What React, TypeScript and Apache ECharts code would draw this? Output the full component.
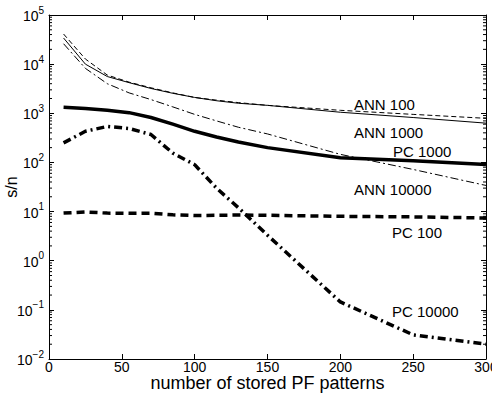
import React, { useEffect, useRef } from "react";
import * as echarts from "echarts";

const X = [10, 25, 40, 55, 70, 85, 100, 115, 130, 150, 200, 250, 300];
const ANN100 = [41000, 12700, 6000, 4300, 3300, 2600, 2100, 1850, 1650, 1450, 1150, 950, 790];
const ANN1000 = [34000, 10000, 5600, 4200, 3200, 2550, 2100, 1800, 1600, 1450, 1050, 820, 630];
const ANN10000 = [26000, 8200, 4000, 2600, 1900, 1350, 950, 700, 520, 380, 146, 72, 34];
const PC100 = [9.3, 9.8, 9.3, 9.2, 9.3, 8.6, 8.3, 8.4, 8.5, 8.4, 8.0, 7.8, 7.4];
const PC1000 = [1320, 1250, 1150, 1030, 820, 600, 430, 330, 260, 200, 125, 108, 91];
const PC10000 = [250, 430, 540, 490, 370, 155, 90, 30, 12, 3.3, 0.145, 0.031, 0.02];
const Y_MIN = 0.01;
const Y_MAX = 100000;
const LABELS = [
  { text: "ANN 100", x: 354, y: 104 },
  { text: "ANN 1000", x: 354, y: 132 },
  { text: "PC 1000", x: 393, y: 151 },
  { text: "ANN 10000", x: 354, y: 189 },
  { text: "PC 100", x: 392, y: 232 },
  { text: "PC 10000", x: 392, y: 311 },
];

const FONT = "'Liberation Sans', Arial, Helvetica, sans-serif";

function minorValues(): number[][] {
  const out: number[][] = [];
  for (let n = -2; n <= 4; n++) {
    for (let k = 2; k <= 9; k++) out.push([0, k * Math.pow(10, n)]);
  }
  return out;
}

export default function App() {
  const ref = useRef<HTMLDivElement>(null);
  useEffect(() => {
    if (!ref.current) return;
    const chart = echarts.init(ref.current, null, { renderer: "svg" });
    const mk = (name: string, data: number[], width: number, type: any) => ({
      name,
      type: "line",
      data: X.map((x, i) => [x, data[i]]),
      showSymbol: false,
      symbol: "none",
      lineStyle: { color: "#000", width, type, cap: "butt", join: "round" },
      xAxisIndex: 0,
      yAxisIndex: 0,
      z: 3,
    });
    const yAxisBase = {
      show: true,
      type: "log",
      logBase: 10,
      min: Y_MIN,
      max: Y_MAX,
      splitLine: { show: false },
      minorTick: { show: false },
      axisLine: { show: true, onZero: false, lineStyle: { color: "#000", width: 1 } },
      axisTick: { show: true, inside: true, length: 5, lineStyle: { color: "#000" } },
    };
    const xAxisBase = {
      show: true,
      type: "value",
      min: 0,
      max: 300,
      interval: 50,
      splitLine: { show: false },
      axisLine: { show: true, onZero: false, lineStyle: { color: "#000", width: 1 } },
      axisTick: { show: true, inside: true, length: 5, lineStyle: { color: "#000" } },
    };
    chart.setOption({
      animation: false,
      backgroundColor: "#fff",
      grid: { left: 49, right: 6, top: 15, bottom: 34, containLabel: false, outerBoundsMode: "none" },
      xAxis: [
        {
          ...xAxisBase,
          position: "bottom",
          name: "number of stored PF patterns",
          nameLocation: "middle",
          nameGap: 15,
          nameMoveOverlap: false,
          nameTextStyle: { fontFamily: FONT, fontSize: 18, lineHeight: 18, color: "#000" },
          axisLabel: {
            fontFamily: FONT,
            fontSize: 14,
            lineHeight: 13,
            color: "#000",
            margin: 1,
          },
        },
        {
          ...xAxisBase,
          position: "top",
          axisLabel: { show: false },
        },
      ],
      yAxis: [
        {
          ...yAxisBase,
          position: "left",
          name: "s/n",
          nameLocation: "middle",
          nameGap: 30,
          nameMoveOverlap: false,
          nameTextStyle: { fontFamily: FONT, fontSize: 16, color: "#000" },
          axisLabel: {
            margin: 5,
            formatter: (v: number) => {
              const e = Math.round(Math.log10(v));
              const s = e < 0 ? "\u2212" + Math.abs(e) : String(e);
              return "{b|10}{s|" + s + "}";
            },
            rich: {
              b: { fontFamily: FONT, fontSize: 14, color: "#000", verticalAlign: "bottom", lineHeight: 16 },
              s: { fontFamily: FONT, fontSize: 10, color: "#000", verticalAlign: "bottom", lineHeight: 16, padding: [0, 0, 8, 0] },
            },
          },
        },
        {
          ...yAxisBase,
          position: "right",
          axisLabel: { show: false },
        },
      ],
      graphic: LABELS.map((l) => ({
        type: "text",
        x: l.x,
        y: l.y,
        style: {
          text: l.text,
          fontFamily: FONT,
          fontSize: 15,
          fill: "#000",
          verticalAlign: "middle",
        },
        z: 10,
      })),
      series: [
        {
          type: "custom",
          name: "minor",
          data: minorValues(),
          silent: true,
          clip: false,
          encode: { x: 0, y: 1 },
          renderItem: (_p: any, api: any) => {
            const v = api.value(1);
            const a = api.coord([0, v]);
            const b = api.coord([300, v]);
            return {
              type: "group",
              children: [
                { type: "line", shape: { x1: a[0], y1: a[1], x2: a[0] + 3, y2: a[1] }, style: { stroke: "#000", lineWidth: 1 } },
                { type: "line", shape: { x1: b[0], y1: b[1], x2: b[0] - 3, y2: b[1] }, style: { stroke: "#000", lineWidth: 1 } },
              ],
            };
          },
        },
        mk("ANN 100", ANN100, 1, [5, 3]),
        mk("ANN 1000", ANN1000, 1, "solid"),
        mk("ANN 10000", ANN10000, 1, [8, 3, 2, 3]),
        mk("PC 100", PC100, 3.5, [8, 5]),
        mk("PC 1000", PC1000, 3.5, "solid"),
        mk("PC 10000", PC10000, 3.5, [8, 4, 2, 4]),
        { type: "line", data: [], xAxisIndex: 1, yAxisIndex: 1 },
      ],
    });
    return () => chart.dispose();
  }, []);
  return (
    <div
      ref={ref}
      style={{ position: "fixed", left: 0, top: 0, width: 492, height: 393, background: "#fff" }}
    />
  );
}
